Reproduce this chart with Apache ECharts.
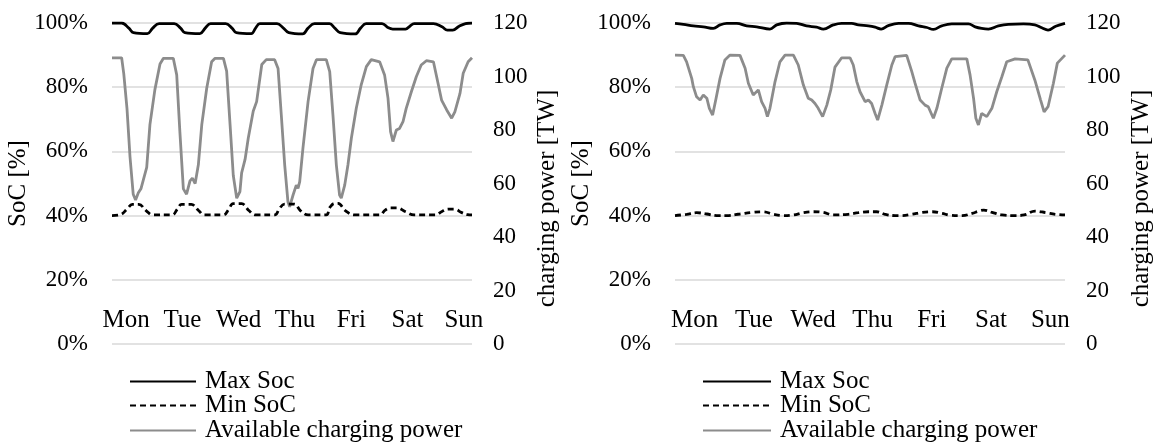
<!DOCTYPE html>
<html>
<head>
<meta charset="utf-8">
<script src="https://cdn.jsdelivr.net/npm/echarts@6/dist/echarts.min.js"></script>
<style>
  html, body { margin: 0; padding: 0; background: #fff; }
  #chart { width: 1156px; height: 444px; }
</style>
</head>
<body>
<div id="chart"></div>
<script>
// x values are hours into the week (0..168)
const days = ["Mon", "Tue", "Wed", "Thu", "Fri", "Sat", "Sun"];
const legendNames = ["Max Soc", "Min SoC", "Available charging power"];

const leftMaxSoc = [[0,100],[4.5,100],[8,98.3],[10,97],[16.5,96.7],[19,98.4],[22,99.8],[29,99.8],[32,98.4],[34,97],[41,96.7],[43.5,98.4],[46,99.8],[53,99.8],[56,98.4],[58,97],[65,96.7],[67,98.4],[69,99.8],[77,99.8],[80,98.4],[82.5,97],[89,96.6],[91.5,98.4],[94.5,99.8],[101.5,99.8],[104,98.4],[106.5,97],[113.5,96.6],[116,98.4],[118.6,99.8],[126,99.8],[129,98.5],[131,98.1],[137,98.1],[139,99],[141,99.8],[150,99.8],[154,98.8],[156.5,97.8],[159,97.8],[162,99],[165,99.8],[168,100]];
const leftMinSoc = [[0,40],[4,40.3],[7,42],[9.5,43.5],[12.5,43.5],[16,41.5],[19,40.2],[28,40.2],[30.5,42],[32.5,43.5],[37,43.5],[40.5,41.5],[43,40.2],[52,40.2],[54.5,42],[56.5,43.7],[60.5,43.7],[64,41.5],[67,40.2],[76,40.2],[78,42],[80.5,43.6],[85,43.6],[88,41.5],[91.5,40.2],[100,40.2],[101.6,42.5],[103.9,43.8],[105.5,43.8],[109,41.5],[113,40.2],[125,40.2],[127.5,41.7],[130,42.4],[133,42.4],[137,41.2],[141,40.2],[151,40.2],[154,41.3],[157,42],[160,42],[163,41],[166,40.3],[168,40.2]];
const leftPower = [[0,107],[4.5,107],[5.5,101],[7,88],[8.4,70],[9.9,56],[11,53.8],[12.3,56.5],[13.5,58],[14.6,61.3],[16.2,66],[17.7,82],[20,95],[22.4,104.7],[24,106.8],[28.6,106.8],[30.2,100.6],[31.7,79],[33.3,58],[34.8,56],[36.4,61],[37.5,62],[38.8,60],[40.3,67],[41.9,82],[44.2,95.6],[46.5,105.5],[48.1,106.8],[52,106.8],[53.5,102],[55.1,82],[56.6,63],[58.2,54.5],[59.7,57],[60.5,64],[62.1,69],[63.6,77],[65.9,87],[67.5,90.6],[69.9,104.5],[72,106.3],[75.9,106.3],[77.5,103],[79,85.7],[80.6,66.9],[82.1,53.2],[82.9,51.3],[84.5,55.7],[86,59.4],[86.8,58.2],[87.6,60.7],[89.1,73.1],[91.5,90.6],[93.8,103],[95.4,106.3],[100,106.3],[101.6,101.8],[103.1,85.7],[104.7,66.9],[106.2,55.7],[107,54.5],[108.6,59.4],[110.1,66.9],[111.7,76.9],[114,88.1],[116.3,96.9],[118.7,103.7],[121,106.3],[124.9,105.5],[127.2,100.6],[128.8,91.9],[130,79.4],[131.1,75.7],[132.7,80],[134.2,80.6],[135.8,83.1],[137.3,88.1],[139.7,94.3],[142,99.9],[144.3,104.3],[146.7,105.9],[150,105.5],[151.5,99.9],[153.8,91.2],[156.2,87.5],[158.5,84.4],[160,86.8],[162.4,93.7],[163.9,101.2],[166.2,105.5],[168,107]];

const rightMaxSoc = [[0,99.9],[3.6,99.6],[7.9,99.1],[12.2,98.8],[16.5,98.3],[19.4,99.4],[22.3,99.9],[26.6,99.9],[30.9,99.1],[35.2,98.8],[40.9,98.1],[43.8,99.4],[48.1,100],[52.4,99.9],[56.7,99.1],[61,98.7],[63.9,98.1],[68.2,99.4],[71.8,99.9],[76.1,99.9],[79,99.4],[83.3,99.1],[86.2,98.7],[88.8,98.1],[91.9,99.2],[96.3,99.9],[100.6,99.9],[104.9,99.1],[108.5,98.6],[111.3,98],[114.9,99.1],[119.2,99.7],[126.4,99.7],[129.3,98.8],[132.1,98.3],[135,98.1],[139.3,99.1],[143.6,99.6],[150.1,99.7],[155,99.4],[158,98.5],[160.7,97.8],[164,99],[168,99.9]];
const rightMinSoc = [[0,40],[5,40.4],[9.3,40.9],[13.7,40.5],[18,40],[22.3,40],[28,40.5],[33,41],[38,41.2],[42.4,40.4],[46.7,40],[51,40.2],[55.3,40.9],[59.6,41.2],[63.9,41],[68.2,40.2],[74.6,40.4],[79,40.9],[83.3,41.2],[86.9,41.2],[90.5,40.4],[94.8,40],[97.7,40],[102,40.4],[106.4,41],[110.7,41.2],[115,40.7],[118.6,40.1],[123.7,40],[128,40.7],[130.9,41.4],[133,41.7],[136.6,41],[140.9,40.2],[146.6,40],[150.4,40.2],[155.1,41.4],[159.8,40.9],[164,40.4],[168,40.2]];
const rightPower = [[0,108],[3.6,107.9],[5,105.5],[7.2,99.3],[7.9,96.2],[9.3,92.4],[10.8,91.2],[12.2,93.1],[13.7,91.9],[14.8,88.1],[16.2,85.6],[17.7,91.9],[19.4,99.3],[21.5,106.2],[23.7,108],[28,107.9],[30.2,103.1],[31.6,97.5],[33.7,93.1],[35.9,95],[37.3,90.6],[38.8,88.1],[39.8,85],[40.9,88.1],[43.1,98.1],[45.2,105.5],[47.4,108],[51,108],[53.1,104.3],[55.3,96.8],[57.4,91.9],[58.9,91.2],[60.3,89.9],[61.7,88.1],[63.6,85],[65.4,89.3],[67.1,95],[68.9,103.5],[71.8,107],[75.4,107],[76.8,104.3],[78.3,98.1],[79.7,94.3],[81.9,90.6],[83.3,91.2],[84.7,89.9],[86.2,86.2],[87.3,83.7],[89.1,89.3],[91.2,96.8],[93.4,104.3],[94.8,107.4],[99.8,107.9],[102,101.8],[103.4,97.5],[105.6,91.2],[107.7,89.3],[109.1,88.7],[111.3,84.4],[112.8,88.1],[114.9,95.6],[117.1,103.1],[119.2,106.6],[125.7,106.6],[127.1,100.6],[128.6,91.9],[129.6,84.4],[130.7,81.9],[132.1,86.2],[134.3,85],[136.5,88.1],[138.6,94.3],[140.8,99.9],[142.9,105.5],[146.5,106.6],[152,106.2],[155,98.7],[157.5,91.2],[159,86.8],[160.7,88.7],[163,97.5],[164.7,105],[168,108]];

const FONT = '"Liberation Serif", "Times New Roman", serif';
const text = (size) => ({ color: "#000", fontFamily: FONT, fontSize: size });

const chart = echarts.init(document.getElementById("chart"));

const grids = [], xAxes = [], yAxes = [], series = [], legends = [];

function addPanel(p) {
  const g = grids.length;
  grids.push({ left: p.left, width: p.width, top: 23, height: 321 });
  grids.push({ left: p.labelLeft, width: p.labelWidth, top: 300, height: 1 });
  const x = xAxes.length;
  xAxes.push({ type: "value", gridIndex: g, min: 0, max: 168, show: false });
  xAxes.push({
    type: "category", gridIndex: g + 1, data: days, boundaryGap: true,
    axisLine: { show: false }, axisTick: { show: false }, splitLine: { show: false },
    axisLabel: { ...text(25), margin: 7, interval: 0 },
  });
  const y = yAxes.length;
  yAxes.push({
    type: "value", gridIndex: g, min: 0, max: 100, interval: 20, position: "left",
    name: "SoC [%]", nameLocation: "middle", nameRotate: 90, nameGap: p.leftGap, nameTextStyle: text(25),
    axisLine: { show: false }, axisTick: { show: false },
    axisLabel: { ...text(23), margin: 24, formatter: "{value}%" },
    splitLine: { lineStyle: { color: "#d9d9d9", width: 1.5 } },
  });
  yAxes.push({
    type: "value", gridIndex: g, min: 0, max: 120, interval: 20, position: "right",
    name: "charging power [TW]", nameLocation: "middle", nameRotate: 90, nameGap: p.rightGap,
    nameTextStyle: { ...text(25), padding: [0, 30, 0, 0] },
    axisLine: { show: false }, axisTick: { show: false }, splitLine: { show: false },
    axisLabel: { ...text(23), margin: 21 },
  });
  yAxes.push({ type: "value", gridIndex: g + 1, show: false });
  const line = { type: "line", xAxisIndex: x, symbol: "none", showSymbol: false, animation: false };
  series.push({ ...line, name: legendNames[0], yAxisIndex: y, data: p.maxSoc, smooth: 0.4, z: 4,
    lineStyle: { color: "#000", width: 2.8 }, itemStyle: { color: "#000" } });
  series.push({ ...line, name: legendNames[1], yAxisIndex: y, data: p.minSoc, smooth: 0.4, z: 4,
    lineStyle: { color: "#000", width: 2.8, type: [6, 4] }, itemStyle: { color: "#000" } });
  series.push({ ...line, name: legendNames[2], yAxisIndex: y + 1, data: p.power, z: 3,
    lineStyle: { color: "#8c8c8c", width: 2.8 }, itemStyle: { color: "#8c8c8c" } });
  // one legend per row, so the rows sit where the reference puts them
  legendNames.forEach((name, i) => legends.push({
    orient: "vertical", left: p.legendLeft, top: [369, 393, 418][i], padding: 0,
    itemWidth: p.legendWidth, itemHeight: 14, data: [name], selectedMode: false,
    itemStyle: { opacity: 0, borderWidth: 0 },
    textStyle: { ...text(25), lineHeight: 25, padding: [0, 0, 0, 4] },
  }));
}

addPanel({ left: 112, width: 360, labelLeft: 98, labelWidth: 394, leftGap: 77, rightGap: 63,
  legendLeft: 129, legendWidth: 66, maxSoc: leftMaxSoc, minSoc: leftMinSoc, power: leftPower });
addPanel({ left: 675, width: 390, labelLeft: 665, labelWidth: 415, leftGap: 72, rightGap: 64,
  legendLeft: 702, legendWidth: 68, maxSoc: rightMaxSoc, minSoc: rightMinSoc, power: rightPower });

chart.setOption({
  animation: false,
  backgroundColor: "#fff",
  grid: grids, xAxis: xAxes, yAxis: yAxes, series, legend: legends,
});
</script>
</body>
</html>
